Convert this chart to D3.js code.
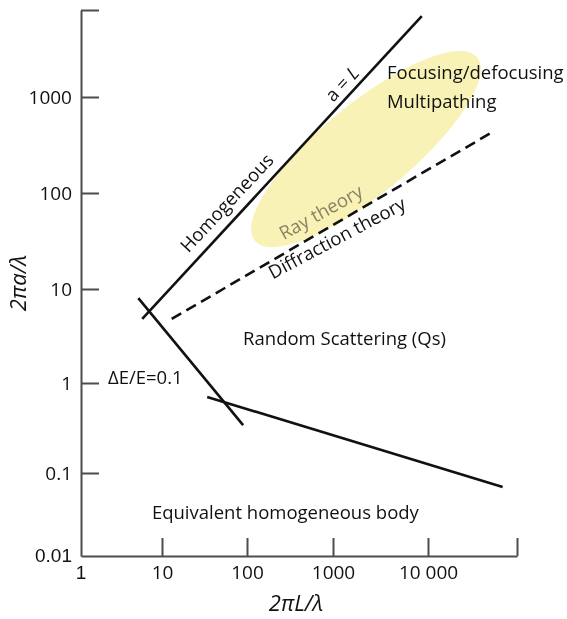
<!DOCTYPE html>
<html>
<head>
<meta charset="utf-8">
<script src="https://cdn.jsdelivr.net/npm/d3@7"></script>
<style>
  body { margin: 0; background: #fff; }
  svg { display: block; font-family: "Open Sans", sans-serif; }
</style>
</head>
<body>
<div class="js-chart"></div>
<script>
(function() {
  'use strict';

  /* ------------------------------------------------------------ *\
      Axis decades (the figure's decades are not evenly spaced)
  \* ------------------------------------------------------------ */

  var xDecades = [1, 10, 100, 1000, 10000, 100000];
  var yDecades = [0.01, 0.1, 1, 10, 100, 1000, 10000];
  var xTickLabels = ['1', '10', '100', '1000', '10 000', ''];
  var yTickLabels = ['0.01', '0.1', '1', '10', '100', '1000', ''];

  /* ------------------------------------------------------------ *\
      Regime boundaries [2piL/lambda, 2pia/lambda]
  \* ------------------------------------------------------------ */

  var aEqualsLine = [[5.7, 4.8], [8600, 8500]];
  var deltaELine = [[5.1, 8.0], [90, 0.34]];
  var lowerLine = [[34, 0.70], [69000, 0.068]];
  var diffractionLine = [[13, 4.8], [55000, 440]];

  // ellipse: ends of the long axis
  var rayEllipseEnds = [[123, 31.9], [35700, 2850]];

  /* ------------------------------------------------------------ *\
      Region labels
  \* ------------------------------------------------------------ */

  var plainLabels = [
    { text: 'Focusing/defocusing', at: [3700, 1610] },
    { text: 'Multipathing', at: [3700, 768] },
    { text: 'Random Scattering (Qs)', at: [90, 2.54] },
    { text: '\u0394E/E=0.1', at: [2.15, 0.98] },
    { text: 'Equivalent homogeneous body', at: [7.5, 0.028] }
  ];

  var slantedLabels = [
    { text: 'Homogeneous', at: [58, 79], angle: -47, colour: '#111' },
    { text: 'Ray theory', at: [725, 63], angle: -29, colour: '#8a8a8a' },
    { text: 'Diffraction theory', at: [1100, 34], angle: -28, colour: '#111' }
  ];

  /* ------------------------------------------------------------ *\
      Scales
  \* ------------------------------------------------------------ */

  var width = 567;
  var height = 619;
  var labelSize = '18.5px';

  var x = d3.scaleLog()
    .domain(xDecades)
    .range([81, 162, 247, 333, 428, 517]);

  var y = d3.scaleLog()
    .domain(yDecades)
    .range([556, 473, 383, 289, 193, 97, 10]);

  var svg = d3.select('.js-chart')
    .append('svg')
    .attr('width', width)
    .attr('height', height);

  var axisColour = '#4d4d4d';

  /* ------------------------------------------------------------ *\
      Axes
  \* ------------------------------------------------------------ */

  var xAxis = d3.axisBottom(x)
    .tickValues(xDecades.slice(1))
    .tickFormat(function(d) { return xTickLabels[xDecades.indexOf(d)]; })
    .tickSizeInner(-18)
    .tickSizeOuter(0)
    .tickPadding(10);

  var yAxis = d3.axisLeft(y)
    .tickValues(yDecades.slice(1))
    .tickFormat(function(d) { return yTickLabels[yDecades.indexOf(d)]; })
    .tickSizeInner(-18)
    .tickSizeOuter(0)
    .tickPadding(9);

  var gx = svg.append('g')
    .attr('transform', 'translate(0,' + y(0.01) + ')')
    .call(xAxis);

  var gy = svg.append('g')
    .attr('transform', 'translate(' + x(1) + ',0)')
    .call(yAxis);

  [gx, gy].forEach(function(g) {
    g.selectAll('path, line')
      .attr('stroke', axisColour)
      .attr('stroke-width', 2);
    g.selectAll('text')
      .attr('fill', '#111')
      .style('font-family', '"Open Sans", sans-serif')
      .style('font-size', '19px');
  });

  // the corner labels sit on the axes themselves
  gx.append('text')
    .attr('x', x(1))
    .attr('y', 10)
    .attr('dy', '0.71em')
    .attr('text-anchor', 'middle')
    .attr('fill', '#111')
    .style('font-size', '19px')
    .text(xTickLabels[0]);

  gy.append('text')
    .attr('x', -9)
    .attr('y', y(0.01))
    .attr('dy', '0.32em')
    .attr('text-anchor', 'end')
    .attr('fill', '#111')
    .style('font-size', '19px')
    .text(yTickLabels[0]);

  svg.append('text')
    .attr('x', 296)
    .attr('y', 611)
    .attr('text-anchor', 'middle')
    .style('font-size', '22px')
    .style('font-style', 'italic')
    .attr('fill', '#111')
    .text('2\u03c0L/\u03bb');

  svg.append('text')
    .attr('transform', 'translate(26,283) rotate(-90)')
    .attr('text-anchor', 'middle')
    .style('font-size', '22px')
    .style('font-style', 'italic')
    .attr('fill', '#111')
    .text('2\u03c0a/\u03bb');

  /* ------------------------------------------------------------ *\
      Boundary lines
  \* ------------------------------------------------------------ */

  var line = d3.line()
    .x(function(d) { return x(d[0]); })
    .y(function(d) { return y(d[1]); });

  [aEqualsLine, deltaELine, lowerLine].forEach(function(pts) {
    svg.append('path')
      .attr('d', line(pts))
      .attr('stroke', '#111')
      .attr('stroke-width', 2.6)
      .attr('fill', 'none');
  });

  svg.append('path')
    .attr('d', line(diffractionLine))
    .attr('stroke', '#111')
    .attr('stroke-width', 2.6)
    .attr('stroke-dasharray', '11,6')
    .attr('fill', 'none');

  /* ------------------------------------------------------------ *\
      Labels
  \* ------------------------------------------------------------ */

  svg.selectAll('.plain-label')
    .data(plainLabels)
    .enter()
    .append('text')
    .attr('class', 'plain-label')
    .attr('x', function(d) { return x(d.at[0]); })
    .attr('y', function(d) { return y(d.at[1]); })
    .attr('fill', '#111')
    .style('font-size', labelSize)
    .text(function(d) { return d.text; });

  svg.selectAll('.slanted-label')
    .data(slantedLabels)
    .enter()
    .append('text')
    .attr('class', 'slanted-label')
    .attr('transform', function(d) {
      return 'translate(' + x(d.at[0]) + ',' + y(d.at[1]) + ') rotate(' + d.angle + ')';
    })
    .attr('text-anchor', 'middle')
    .attr('dy', '0.35em')
    .attr('fill', function(d) { return d.colour; })
    .style('font-size', labelSize)
    .text(function(d) { return d.text; });

  var aLabel = svg.append('text')
    .attr('transform', 'translate(' + x(1245) + ',' + y(1410) + ') rotate(-47)')
    .attr('text-anchor', 'middle')
    .attr('dy', '0.35em')
    .attr('fill', '#111')
    .style('font-size', labelSize);
  aLabel.append('tspan').text('a = ');
  aLabel.append('tspan').style('font-style', 'italic').text('L');

  /* ------------------------------------------------------------ *\
      Ray theory ellipse (multiplied over what is under it)
  \* ------------------------------------------------------------ */

  var p0 = [x(rayEllipseEnds[0][0]), y(rayEllipseEnds[0][1])];
  var p1 = [x(rayEllipseEnds[1][0]), y(rayEllipseEnds[1][1])];
  var ellipseAngle = Math.atan2(p1[1] - p0[1], p1[0] - p0[0]) * 180 / Math.PI;
  var ellipseRx = Math.hypot(p1[0] - p0[0], p1[1] - p0[1]) / 2;

  svg.append('ellipse')
    .attr('transform', 'translate(' + (p0[0] + p1[0]) / 2 + ',' + (p0[1] + p1[1]) / 2 + ') rotate(' + ellipseAngle + ')')
    .attr('rx', ellipseRx)
    .attr('ry', 45)
    .attr('fill', '#f9f2b6')
    .style('mix-blend-mode', 'multiply');
})();
</script>
</body>
</html>
